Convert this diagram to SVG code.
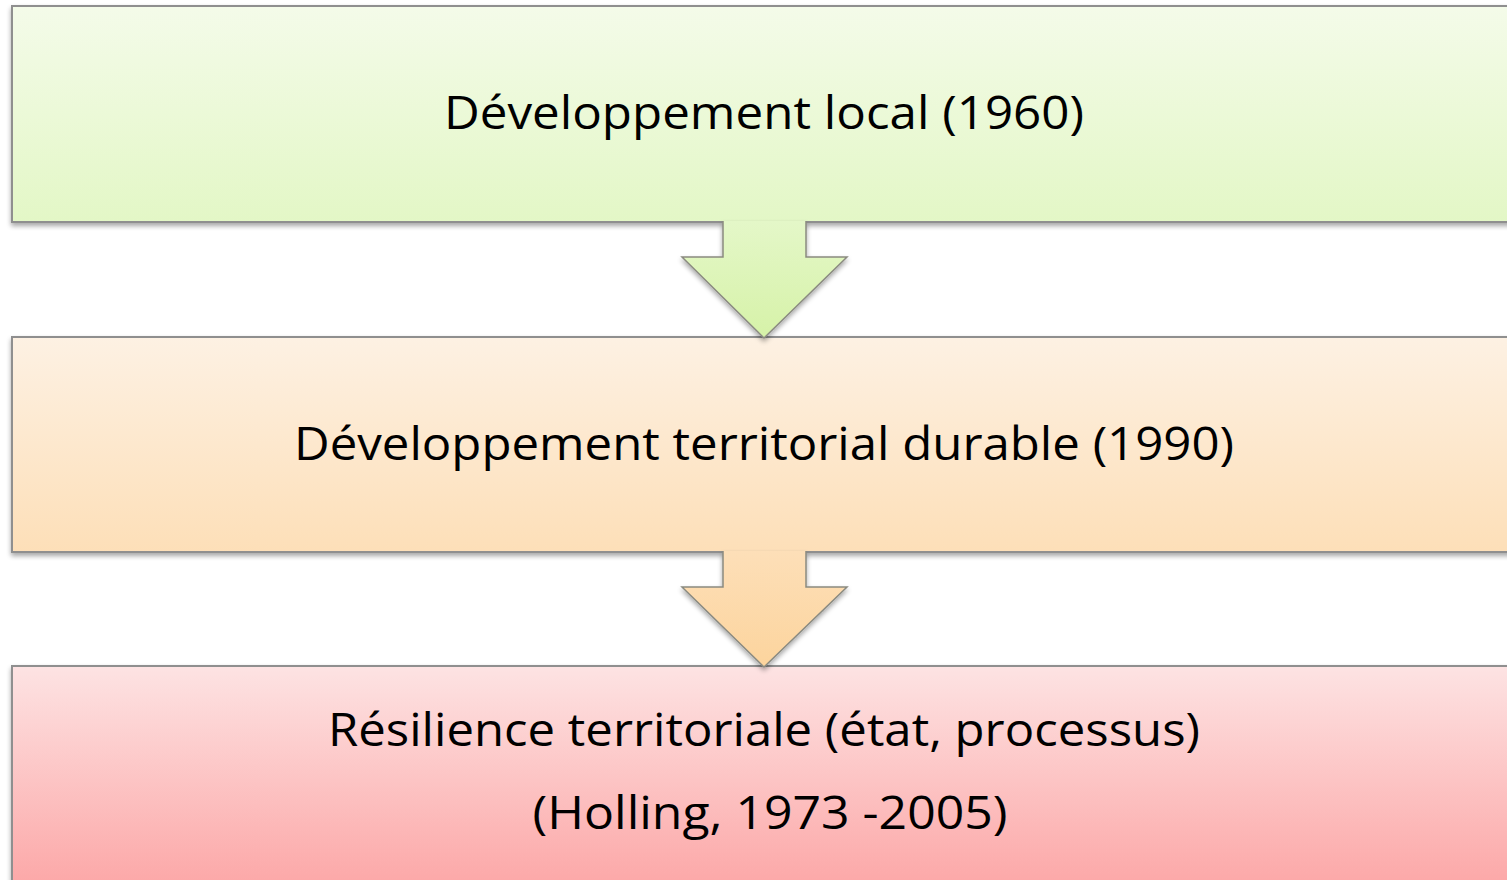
<svg xmlns="http://www.w3.org/2000/svg" width="1507" height="880" viewBox="0 0 1507 880">
<defs>
<linearGradient id="gGreen" x1="0" y1="0" x2="0" y2="1"><stop offset="0" stop-color="#f4fbe9"/><stop offset="1" stop-color="#e3f7c6"/></linearGradient>
<linearGradient id="gOrange" x1="0" y1="0" x2="0" y2="1"><stop offset="0" stop-color="#fdf1e3"/><stop offset="1" stop-color="#fddfb8"/></linearGradient>
<linearGradient id="gRed" x1="0" y1="0" x2="0" y2="1"><stop offset="0" stop-color="#fde3e3"/><stop offset="1" stop-color="#fca2a2"/></linearGradient>
<linearGradient id="gArrowG" x1="0" y1="0" x2="0" y2="1"><stop offset="0" stop-color="#e4f7c8"/><stop offset="1" stop-color="#d6f2a8"/></linearGradient>
<linearGradient id="gArrowO" x1="0" y1="0" x2="0" y2="1"><stop offset="0" stop-color="#fddfb8"/><stop offset="1" stop-color="#fcd49d"/></linearGradient>
<filter id="sh" x="-5%" y="-5%" width="110%" height="115%"><feGaussianBlur in="SourceAlpha" stdDeviation="2.5"/><feOffset dx="0" dy="3" result="b"/><feComponentTransfer><feFuncA type="linear" slope="0.35"/></feComponentTransfer><feMerge><feMergeNode/><feMergeNode in="SourceGraphic"/></feMerge></filter>
</defs>
<style>
.box{stroke:#8f8f8f;stroke-width:2}
.arr{stroke:#8a8a80;stroke-width:1.5}
.t{font-family:"Open Sans","Liberation Sans",sans-serif;font-size:46px;fill:#000;text-anchor:middle}
</style>
<rect width="1507" height="880" fill="#ffffff"/>
<g id="node1">
<rect class="box" filter="url(#sh)" x="12" y="6" width="1510" height="216" fill="url(#gGreen)"/>
<text class="t" x="764" y="129" textLength="640" lengthAdjust="spacingAndGlyphs">Développement local (1960)</text>
</g>
<g id="node2">
<rect class="box" filter="url(#sh)" x="12" y="337" width="1510" height="215" fill="url(#gOrange)"/>
<text class="t" x="764" y="460" textLength="940" lengthAdjust="spacingAndGlyphs">Développement territorial durable (1990)</text>
</g>
<g id="node3">
<rect class="box" filter="url(#sh)" x="12" y="666" width="1510" height="240" fill="url(#gRed)"/>
<text class="t" x="764" y="746" textLength="872" lengthAdjust="spacingAndGlyphs">Résilience territoriale (état, processus)</text>
<text class="t" x="770" y="829" textLength="475" lengthAdjust="spacingAndGlyphs">(Holling, 1973 -2005)</text>
</g>
<g id="connectors">
<path class="arr" filter="url(#sh)" fill="url(#gArrowG)" d="M723,221 L723,257 L682,257 L764,338 L847,257 L806,257 L806,221"/>
<path class="arr" filter="url(#sh)" fill="url(#gArrowO)" d="M723,551 L723,587 L682,587 L764,667 L847,587 L806,587 L806,551"/>
</g>
</svg>
